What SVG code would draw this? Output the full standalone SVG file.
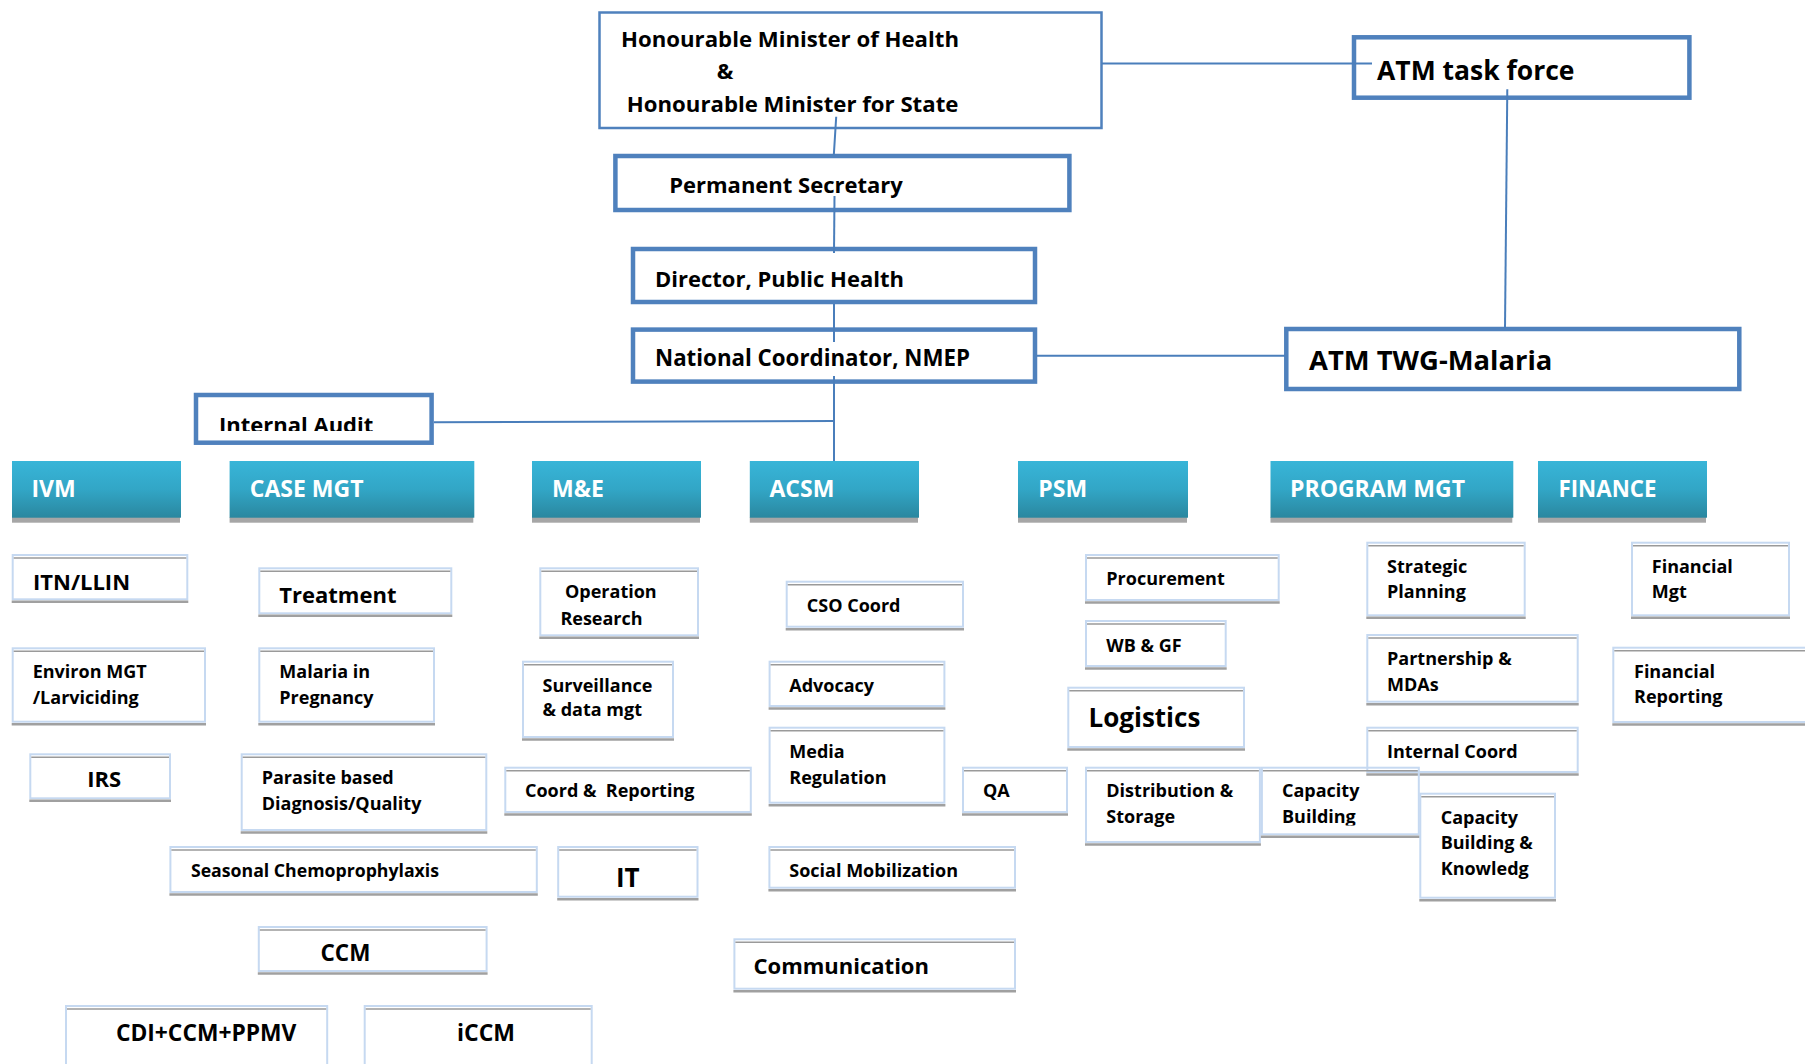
<svg xmlns="http://www.w3.org/2000/svg" width="1805" height="1064" viewBox="0 0 1805 1064">
<defs>
<linearGradient id="teal" x1="0" y1="0" x2="0" y2="1">
<stop offset="0" stop-color="#38b5d8"/>
<stop offset="0.5" stop-color="#32a6c6"/>
<stop offset="1" stop-color="#2a879f"/>
</linearGradient>
<clipPath id="clipIA"><rect x="190" y="390" width="250" height="41"/></clipPath>
<clipPath id="clipCB"><rect x="1262" y="768" width="156" height="57.5"/></clipPath>
<style>
text{font-family:'Open Sans','Liberation Sans',sans-serif;font-weight:700;fill:#000;white-space:pre}
.mb rect{fill:#fff;stroke:#4f81bd}
.thin rect{stroke-width:2.5}
.thick rect{stroke-width:4.5}
.mt{font-size:22.2px}
.big{font-size:27px}
.hd .tl{fill:url(#teal)}
.hd .sh{fill:#a6a6a6}
.hd text{fill:#fff;font-size:23px}
.sb rect{fill:#fff;stroke:#c6d9f1;stroke-width:2}
.sb .t{stroke:#9a9a9a;stroke-width:1.5}
.sb .b{stroke:#a0a0a0;stroke-width:2.5}
.s{font-size:18px}
.l{font-size:22px}
.xl{font-size:26px}
#connectors line{stroke:#4a7ebb;stroke-width:2;fill:none}
</style>
</defs>
<rect width="1805" height="1064" fill="#fff"/>

<g id="minister" class="mb thin">
<rect x="599.5" y="12.5" width="502" height="115.5"/>
<text class="mt" x="621" y="46.5">Honourable Minister of Health</text>
<text class="mt" x="716.7" y="78.7">&amp;</text>
<text class="mt" x="626.8" y="111.7">Honourable Minister for State</text>
</g>
<g id="atm-task-force" class="mb thick">
<rect x="1354" y="37.3" width="335.4" height="60.4"/>
<text style="font-size:26.5px" x="1377" y="80">ATM task force</text>
</g>
<g id="perm-sec" class="mb thick">
<rect x="615.4" y="156" width="454" height="54"/>
<text class="l" x="669.2" y="193.3">Permanent Secretary</text>
</g>
<g id="director" class="mb thick">
<rect x="633" y="249" width="402" height="53"/>
<text class="l" x="655" y="286.7">Director, Public Health</text>
</g>
<g id="nat-coord" class="mb thick">
<rect x="633" y="329.6" width="402" height="52"/>
<text style="font-size:22.3px" x="655" y="366">National Coordinator, NMEP</text>
</g>
<g id="atm-twg" class="mb thick">
<rect x="1286.3" y="329" width="453" height="60"/>
<text style="font-size:27.4px" x="1309" y="370">ATM TWG-Malaria</text>
</g>
<g id="internal-audit" class="mb thick">
<rect x="196" y="395" width="235.6" height="47.7"/>
<text class="l" x="219" y="432.5" clip-path="url(#clipIA)">Internal Audit</text>
</g>

<g id="h-ivm" class="hd"><rect class="sh" x="12" y="517" width="168" height="5.7"/><rect class="tl" x="12" y="461" width="169" height="56.7"/><text x="31.4" y="497">IVM</text></g>
<g id="h-case" class="hd"><rect class="sh" x="229.6" y="517" width="243.7" height="5.7"/><rect class="tl" x="229.6" y="461" width="244.7" height="56.7"/><text x="249.8" y="497">CASE MGT</text></g>
<g id="h-me" class="hd"><rect class="sh" x="532" y="517" width="168" height="5.7"/><rect class="tl" x="532" y="461" width="169" height="56.7"/><text x="552" y="497">M&amp;E</text></g>
<g id="h-acsm" class="hd"><rect class="sh" x="749.8" y="517" width="168.2" height="5.7"/><rect class="tl" x="749.8" y="461" width="169.2" height="56.7"/><text x="769.5" y="497">ACSM</text></g>
<g id="h-psm" class="hd"><rect class="sh" x="1018" y="517" width="169" height="5.7"/><rect class="tl" x="1018" y="461" width="170" height="56.7"/><text x="1038.3" y="497">PSM</text></g>
<g id="h-prog" class="hd"><rect class="sh" x="1270.5" y="517" width="241.8" height="5.7"/><rect class="tl" x="1270.5" y="461" width="242.8" height="56.7"/><text x="1290" y="497">PROGRAM MGT</text></g>
<g id="h-fin" class="hd"><rect class="sh" x="1538" y="517" width="168" height="5.7"/><rect class="tl" x="1538" y="461" width="169" height="56.7"/><text x="1558.5" y="497" style="font-size:22.3px">FINANCE</text></g>

<g id="itn" class="sb"><rect x="12.7" y="555" width="174.6" height="44.3"/><line class="t" x1="13.7" y1="558" x2="186.3" y2="558"/><line class="b" x1="11.7" y1="601.8" x2="188.3" y2="601.8"/><text class="l" x="33" y="590">ITN/LLIN</text></g>
<g id="environ" class="sb"><rect x="12.7" y="648.3" width="192.3" height="73.4"/><line class="t" x1="13.7" y1="651.3" x2="204" y2="651.3"/><line class="b" x1="11.7" y1="724.2" x2="206" y2="724.2"/><text class="s" x="32.7" y="678.3">Environ MGT</text><text class="s" x="32.7" y="704">/Larviciding</text></g>
<g id="irs" class="sb"><rect x="30.3" y="754.3" width="139.7" height="44"/><line class="t" x1="31.3" y1="757.3" x2="169" y2="757.3"/><line class="b" x1="29.3" y1="800.8" x2="171" y2="800.8"/><text class="l" x="87.3" y="787.3">IRS</text></g>
<g id="treatment" class="sb"><rect x="259.3" y="568.3" width="192" height="45"/><line class="t" x1="260.3" y1="571.3" x2="450.3" y2="571.3"/><line class="b" x1="258.3" y1="615.8" x2="452.3" y2="615.8"/><text class="l" x="279.3" y="603.3">Treatment</text></g>
<g id="mip" class="sb"><rect x="259.3" y="648.3" width="174.7" height="73.4"/><line class="t" x1="260.3" y1="651.3" x2="433" y2="651.3"/><line class="b" x1="258.3" y1="724.2" x2="435" y2="724.2"/><text class="s" x="279.3" y="678.3">Malaria in</text><text class="s" x="279.3" y="704">Pregnancy</text></g>
<g id="parasite" class="sb"><rect x="241.7" y="754.3" width="244.6" height="75.7"/><line class="t" x1="242.7" y1="757.3" x2="485.3" y2="757.3"/><line class="b" x1="240.7" y1="832.5" x2="487.3" y2="832.5"/><text class="s" x="261.7" y="784.3">Parasite based</text><text class="s" x="261.7" y="810">Diagnosis/Quality</text></g>
<g id="seasonal" class="sb"><rect x="170.4" y="847" width="366.4" height="45"/><line class="t" x1="171.4" y1="850" x2="535.8" y2="850"/><line class="b" x1="169.4" y1="894.5" x2="537.8" y2="894.5"/><text style="font-size:17.7px" x="190.9" y="876.7">Seasonal Chemoprophylaxis</text></g>
<g id="ccm" class="sb"><rect x="258.8" y="927" width="227.8" height="44"/><line class="t" x1="259.8" y1="930" x2="485.6" y2="930"/><line class="b" x1="257.8" y1="973.5" x2="487.6" y2="973.5"/><text style="font-size:22.5px" x="320.5" y="960.7">CCM</text></g>
<g id="cdi" class="sb"><rect x="66" y="1006" width="261.2" height="62"/><line class="t" x1="67" y1="1009" x2="326.2" y2="1009"/><text style="font-size:22.8px" x="115.9" y="1040.7">CDI+CCM+PPMV</text></g>
<g id="iccm" class="sb"><rect x="364.7" y="1006" width="227" height="62"/><line class="t" x1="365.7" y1="1009" x2="590.7" y2="1009"/><text style="font-size:23px" x="457" y="1040.7">iCCM</text></g>

<g id="op-research" class="sb"><rect x="540.3" y="568.3" width="157.7" height="67"/><line class="t" x1="541.3" y1="571.3" x2="697" y2="571.3"/><line class="b" x1="539.3" y1="637.8" x2="699" y2="637.8"/><text class="s" x="565" y="598.3">Operation</text><text class="s" x="560.4" y="625">Research</text></g>
<g id="surveillance" class="sb"><rect x="523" y="661.7" width="150" height="75.3"/><line class="t" x1="524" y1="664.7" x2="672" y2="664.7"/><line class="b" x1="522" y1="739.5" x2="674" y2="739.5"/><text class="s" x="542.5" y="691.7">Surveillance</text><text class="s" x="542.5" y="716">&amp; data mgt</text></g>
<g id="coord-reporting" class="sb"><rect x="505.3" y="767.7" width="245.5" height="44.3"/><line class="t" x1="506.3" y1="770.7" x2="749.8" y2="770.7"/><line class="b" x1="504.3" y1="814.5" x2="751.8" y2="814.5"/><text class="s" x="525" y="796.7" xml:space="preserve">Coord &amp;  Reporting</text></g>
<g id="it" class="sb"><rect x="558.2" y="847" width="139.3" height="49.7"/><line class="t" x1="559.2" y1="850" x2="696.5" y2="850"/><line class="b" x1="557.2" y1="899.2" x2="698.5" y2="899.2"/><text class="xl" x="616" y="886.7">IT</text></g>

<g id="cso" class="sb"><rect x="786.7" y="581.7" width="176.3" height="45"/><line class="t" x1="787.7" y1="584.7" x2="962" y2="584.7"/><line class="b" x1="785.7" y1="629.2" x2="964" y2="629.2"/><text class="s" x="806.8" y="611.7">CSO Coord</text></g>
<g id="advocacy" class="sb"><rect x="769.6" y="661.7" width="174.8" height="44.3"/><line class="t" x1="770.6" y1="664.7" x2="943.4" y2="664.7"/><line class="b" x1="768.6" y1="708.5" x2="945.4" y2="708.5"/><text class="s" x="789.3" y="691.7">Advocacy</text></g>
<g id="media" class="sb"><rect x="769.6" y="727.7" width="174.8" height="75"/><line class="t" x1="770.6" y1="730.7" x2="943.4" y2="730.7"/><line class="b" x1="768.6" y1="805.2" x2="945.4" y2="805.2"/><text class="s" x="789.3" y="758.3">Media</text><text class="s" x="789.3" y="784.3">Regulation</text></g>
<g id="qa" class="sb"><rect x="963" y="767.7" width="104" height="44.3"/><line class="t" x1="964" y1="770.7" x2="1066" y2="770.7"/><line class="b" x1="962" y1="814.5" x2="1068" y2="814.5"/><text class="s" x="982.9" y="796.7">QA</text></g>
<g id="social-mob" class="sb"><rect x="769.4" y="847" width="245.6" height="40.7"/><line class="t" x1="770.4" y1="850" x2="1014" y2="850"/><line class="b" x1="768.4" y1="890.2" x2="1016" y2="890.2"/><text class="s" x="789.3" y="877.3">Social Mobilization</text></g>
<g id="communication" class="sb"><rect x="734.4" y="939.3" width="280.6" height="49.4"/><line class="t" x1="735.4" y1="942.3" x2="1014" y2="942.3"/><line class="b" x1="733.4" y1="991.2" x2="1016" y2="991.2"/><text class="l" x="753.5" y="974">Communication</text></g>

<g id="procurement" class="sb"><rect x="1086" y="555" width="192.7" height="45"/><line class="t" x1="1087" y1="558" x2="1277.7" y2="558"/><line class="b" x1="1085" y1="602.5" x2="1279.7" y2="602.5"/><text class="s" x="1106.3" y="585">Procurement</text></g>
<g id="wb-gf" class="sb"><rect x="1086" y="621" width="139.7" height="45"/><line class="t" x1="1087" y1="624" x2="1224.7" y2="624"/><line class="b" x1="1085" y1="668.5" x2="1226.7" y2="668.5"/><text class="s" x="1106.3" y="651.7">WB &amp; GF</text></g>
<g id="logistics" class="sb"><rect x="1068.3" y="687.7" width="175.7" height="59.3"/><line class="t" x1="1069.3" y1="690.7" x2="1243" y2="690.7"/><line class="b" x1="1067.3" y1="749.5" x2="1245" y2="749.5"/><text class="xl" x="1088.5" y="726.7">Logistics</text></g>
<g id="distribution" class="sb"><rect x="1086" y="767.7" width="173.9" height="74.3"/><line class="t" x1="1087" y1="770.7" x2="1258.9" y2="770.7"/><line class="b" x1="1085" y1="844.5" x2="1260.9" y2="844.5"/><text class="s" x="1106.3" y="796.7">Distribution &amp;</text><text class="s" x="1106.3" y="823.3">Storage</text></g>

<g id="strategic" class="sb"><rect x="1367.3" y="542.7" width="157.4" height="72.6"/><line class="t" x1="1368.3" y1="545.7" x2="1523.7" y2="545.7"/><line class="b" x1="1366.3" y1="617.8" x2="1525.7" y2="617.8"/><text class="s" x="1387" y="572.7">Strategic</text><text class="s" x="1387" y="598.3">Planning</text></g>
<g id="partnership" class="sb"><rect x="1367.3" y="635" width="210.4" height="66.7"/><line class="t" x1="1368.3" y1="638" x2="1576.7" y2="638"/><line class="b" x1="1366.3" y1="704.2" x2="1578.7" y2="704.2"/><text class="s" x="1387" y="665">Partnership &amp;</text><text class="s" x="1387" y="690.7">MDAs</text></g>
<g id="internal-coord" class="sb"><rect x="1367.3" y="727.7" width="210.4" height="44.3"/><line class="t" x1="1368.3" y1="730.7" x2="1576.7" y2="730.7"/><line class="b" x1="1366.3" y1="774.5" x2="1578.7" y2="774.5"/><text class="s" x="1387" y="758.3">Internal Coord</text></g>
<g id="capacity-building" class="sb"><rect x="1261.9" y="767.7" width="156.9" height="66.6" style="fill:none"/><line class="t" x1="1262.9" y1="770.7" x2="1417.8" y2="770.7"/><line class="b" x1="1260.9" y1="836.8" x2="1419.8" y2="836.8"/><g clip-path="url(#clipCB)"><text class="s" x="1282" y="796.7">Capacity</text><text class="s" x="1282" y="823.3">Building</text></g></g>
<g id="capacity-knowledge" class="sb"><rect x="1420.3" y="793.7" width="134.7" height="104"/><line class="t" x1="1421.3" y1="796.7" x2="1554" y2="796.7"/><line class="b" x1="1419.3" y1="900.2" x2="1556" y2="900.2"/><text class="s" x="1440.7" y="824">Capacity</text><text class="s" x="1440.7" y="849.3">Building &amp;</text><text class="s" x="1440.7" y="875">Knowledg</text></g>

<g id="fin-mgt" class="sb"><rect x="1632" y="542.7" width="157" height="72.6"/><line class="t" x1="1633" y1="545.7" x2="1788" y2="545.7"/><line class="b" x1="1631" y1="617.8" x2="1790" y2="617.8"/><text class="s" x="1651.8" y="572.7">Financial</text><text class="s" x="1651.8" y="598.3">Mgt</text></g>
<g id="fin-reporting" class="sb"><rect x="1613.3" y="647.7" width="200" height="74.3"/><line class="t" x1="1614.3" y1="650.7" x2="1812" y2="650.7"/><line class="b" x1="1612.3" y1="724.5" x2="1815" y2="724.5"/><text class="s" x="1634" y="677.7">Financial</text><text class="s" x="1634" y="703.3">Reporting</text></g>

<g id="connectors">
<line x1="1102" y1="63.5" x2="1372" y2="63.5"/>
<line x1="1507.3" y1="89.3" x2="1505" y2="328"/>
<line x1="1037" y1="355.7" x2="1285" y2="355.7"/>
<line x1="836.2" y1="116.7" x2="833.8" y2="155"/>
<line x1="834.5" y1="196" x2="834" y2="253"/>
<line x1="834" y1="304" x2="834" y2="342"/>
<line x1="834" y1="376" x2="834" y2="461"/>
<line x1="434" y1="422.3" x2="834" y2="421"/>
</g>
</svg>
